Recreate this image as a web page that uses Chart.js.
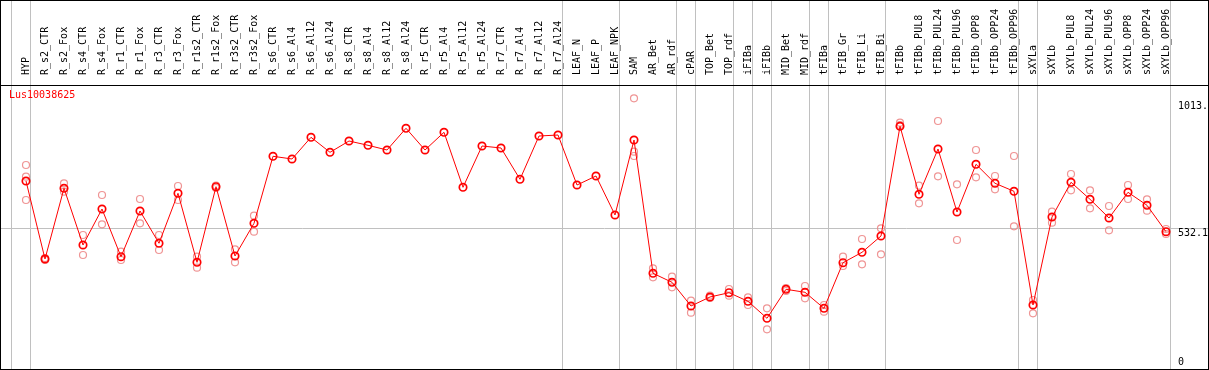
<!DOCTYPE html>
<html>
<head>
<meta charset="utf-8">
<script src="https://cdn.jsdelivr.net/npm/chart.js@4"></script>
<style>
  body { margin: 0; background: #fff; }
  #frame { position: absolute; left: 0; top: 0; width: 1209px; height: 370px; border: 1px solid #000; box-sizing: border-box; }
  canvas { display: block; }
</style>
</head>
<body>
<div id="frame"><canvas id="chart" width="1207" height="368"></canvas></div>
<script>
const geneName = "Lus10038625";

const categories = [
    "HYP", "R_s2_CTR", "R_s2_Fox", "R_s4_CTR", "R_s4_Fox", "R_r1_CTR", "R_r1_Fox", "R_r3_CTR", "R_r3_Fox",
    "R_r1s2_CTR", "R_r1s2_Fox", "R_r3s2_CTR", "R_r3s2_Fox", "R_s6_CTR", "R_s6_Al4", "R_s6_Al12", "R_s6_Al24",
    "R_s8_CTR", "R_s8_Al4", "R_s8_Al12", "R_s8_Al24", "R_r5_CTR", "R_r5_Al4", "R_r5_Al12", "R_r5_Al24",
    "R_r7_CTR", "R_r7_Al4", "R_r7_Al12", "R_r7_Al24", "LEAF_N", "LEAF_P", "LEAF_NPK", "SAM", "AR_Bet", "AR_rdf",
    "cPAR", "TOP_Bet", "TOP_rdf", "iFIBa", "iFIBb", "MID_Bet", "MID_rdf", "tFIBa", "tFIB_Gr", "tFIB_Li", "tFIB_Bi",
    "tFIBb", "tFIBb_PUL8", "tFIBb_PUL24", "tFIBb_PUL96", "tFIBb_OPP8", "tFIBb_OPP24", "tFIBb_OPP96",
    "sXYLa", "sXYLb", "sXYLb_PUL8", "sXYLb_PUL24", "sXYLb_PUL96", "sXYLb_OPP8", "sXYLb_OPP24", "sXYLb_OPP96"
];

// mean expression per sample
const means = [
    711.0, 416.0, 683.4, 468.9, 605.1, 424.7, 597.5, 475.4, 664.4, 403.5,
    689.4, 427.3, 551.0, 804.4, 794.2, 876.2, 819.5, 862.2, 846.0, 828.2,
    910.3, 828.2, 895.1, 687.1, 843.3, 835.8, 717.4, 881.1, 884.9, 695.8,
    729.9, 582.4, 866.0, 361.9, 327.9, 238.2, 272.3, 288.5, 256.0, 191.7,
    301.4, 290.1, 229.5, 402.0, 441.3, 503.0, 917.8, 660.7, 832.0, 593.7,
    774.1, 702.3, 672.0, 242.0, 574.8, 706.0, 641.8, 571.0, 668.2, 619.1,
    519.2
];

// replicates (null = not shown)
const rep1 = [
    771.5, 419.8, 702.3, 506.7, 658.0, 443.6, 642.9, 506.7, 692.0, 424.7,
    694.0, 452.7, 579.7, null, null, null, null, null, null, null,
    null, null, null, null, null, null, null, null, null, null,
    null, null, 1023.7, 380.8, 349.1, 258.3, 278.0, 302.5, 271.1, 229.5,
    306.3, 313.9, 242.0, 424.7, 491.6, 532.1, 931.4, 693.2, 937.9, 698.5,
    828.2, 729.9, 805.5, 260.9, 594.9, 737.4, 675.8, 616.4, 695.8, 641.8,
    529.4
];
const rep2 = [
    639.1, 412.2, 670.5, 431.1, 547.2, 412.2, 551.0, 450.0, 639.1, 383.1,
    684.5, 403.5, 519.2, null, null, null, null, null, null, null,
    null, null, null, null, null, null, null, null, null, null,
    null, null, 805.5, 346.8, 309.0, 212.9, 268.5, 277.2, 242.0, 150.1,
    295.0, 267.4, 216.7, 389.5, 395.9, 433.8, 922.7, 626.6, 728.7, 487.8,
    725.0, 679.6, 539.6, 210.6, 553.3, 675.8, 607.7, 524.5, 642.9, 598.6,
    510.5
];
const rep3 = [
    727.2, null, null, null, null, null, null, null, null, null,
    null, null, null, null, null, null, null, null, null, null,
    null, null, null, null, null, null, null, null, null, null,
    null, null, 821.8, null, null, null, null, null, null, null,
    null, null, null, null, null, null, null, null, null, null,
    null, null, null, null, null, null, null, null, null, null,
    null
];

// last sample index of each group (separator lines)
const groupEnds = [-1, 0, 28, 31, 34, 35, 37, 38, 39, 41, 42, 45, 52, 53, 60];

const yTicks = [1013, 532.1, 0];
const yTickLabels = ["1013.", "532.1", "0"];
const yGridValues = [532.1];

const MONO = '"DejaVu Sans Mono", monospace';
const X_MIN = -25 / 19;
const X_MAX = 1182 / 19;
const SEP_OFFSET = 4 / 19;

function toPoints(arr) {
    const pts = [];
    arr.forEach((v, i) => { if (v !== null) pts.push({x: i, y: v}); });
    return pts;
}

function repDataset(arr) {
    return {
        type: 'scatter',
        data: toPoints(arr),
        showLine: false,
        pointRadius: 3.5,
        pointBorderWidth: 1.2,
        pointBorderColor: 'rgba(236, 130, 130, 0.85)',
        pointBackgroundColor: 'rgba(0,0,0,0)',
        xAxisID: 'x',
        yAxisID: 'y'
    };
}

const textPlugin = {
    id: 'texts',
    afterDraw(chart) {
        const ctx = chart.ctx;
        const area = chart.chartArea;
        const yScale = chart.scales.y;
        ctx.save();
        ctx.font = '10px ' + MONO;
        ctx.textBaseline = 'top';
        ctx.textAlign = 'left';
        ctx.fillStyle = '#ff0000';
        ctx.fillText(geneName, area.left + 8, area.top + 5);
        ctx.fillStyle = '#000';
        yTicks.forEach((v, i) => {
            const py = Math.min(yScale.getPixelForValue(v), area.bottom - 12);
            ctx.fillText(yTickLabels[i], area.right - 30, py);
        });
        ctx.restore();
    }
};

const chart = new Chart(document.getElementById('chart'), {
    type: 'line',
    data: {
        datasets: [
            {
                data: toPoints(means),
                borderColor: '#ff0000',
                borderWidth: 1,
                pointRadius: 3.7,
                pointBorderWidth: 1.7,
                pointBorderColor: '#ff0000',
                pointBackgroundColor: 'rgba(0,0,0,0)',
                tension: 0,
                xAxisID: 'x',
                yAxisID: 'y'
            },
            repDataset(rep1),
            repDataset(rep2),
            repDataset(rep3)
        ]
    },
    options: {
        responsive: false,
        animation: false,
        devicePixelRatio: 1,
        events: [],
        layout: { padding: 0, autoPadding: false },
        plugins: {
            legend: { display: false },
            tooltip: { enabled: false }
        },
        scales: {
            x: {
                type: 'linear',
                position: 'top',
                weight: 0,
                min: X_MIN,
                max: X_MAX,
                bounds: 'data',
                afterBuildTicks: s => { s.ticks = groupEnds.map(g => ({value: g + SEP_OFFSET})); },
                afterFit: s => { s.height = 0; s.paddingLeft = 0; s.paddingRight = 0; },
                ticks: { display: false, autoSkip: false },
                grid: { color: '#c0c0c0', lineWidth: 1, drawTicks: true, tickLength: 84 },
                border: { display: true, color: '#000', width: 1 }
            },
            xl: {
                type: 'linear',
                position: 'top',
                weight: 1,
                min: X_MIN,
                max: X_MAX,
                bounds: 'data',
                afterBuildTicks: s => { s.ticks = categories.map((c, i) => ({value: i})); },
                afterFit: s => { s.height = 84; s.paddingLeft = 0; s.paddingRight = 0; },
                ticks: {
                    autoSkip: false,
                    minRotation: 90,
                    maxRotation: 90,
                    padding: 2,
                    labelOffset: 12,
                    color: '#000',
                    font: { family: MONO, size: 10 },
                    callback: v => categories[v]
                },
                grid: { display: false },
                border: { display: false }
            },
            y: {
                type: 'linear',
                position: 'right',
                min: 0,
                max: 1074,
                afterBuildTicks: s => { s.ticks = yGridValues.map(v => ({value: v})); },
                afterFit: s => { s.width = 0; },
                ticks: { display: false },
                grid: { color: '#c0c0c0', lineWidth: 1, drawTicks: false },
                border: { display: false }
            }
        }
    },
    plugins: [textPlugin]
});
</script>
</body>
</html>
